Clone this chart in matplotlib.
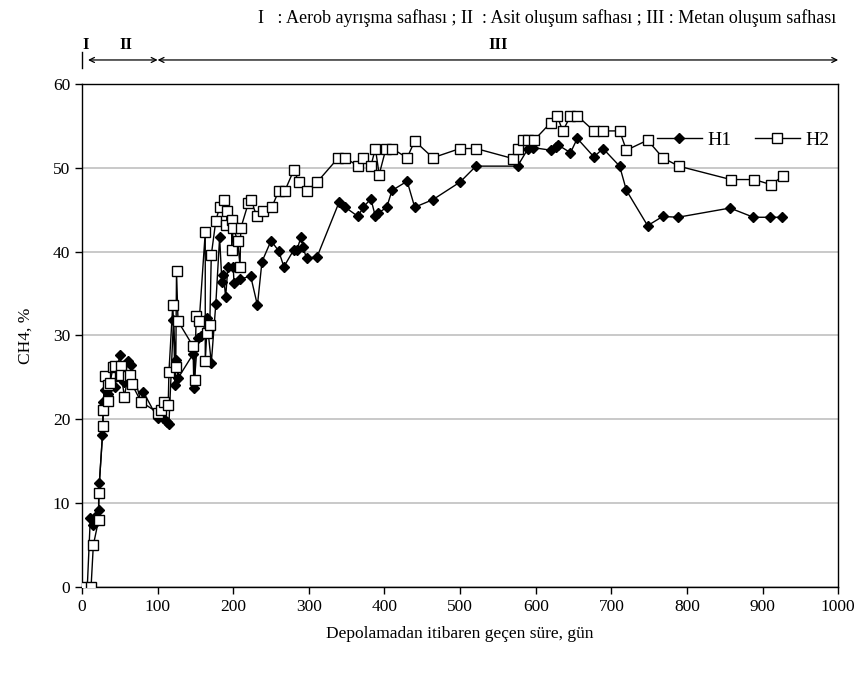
import matplotlib
matplotlib.use("Agg")
import matplotlib.pyplot as plt

plt.rcParams['font.family'] = ['Liberation Serif', 'DejaVu Serif']

# H1 - days and CH4 %
h1_days = [0, 7, 11, 15, 19, 22, 23, 27, 28, 30, 34, 37, 43, 50, 55, 61, 65, 78, 81,
           100, 107, 112, 115, 121, 123, 124, 127, 147, 148, 153, 158, 165, 171, 177,
           182, 185, 187, 190, 193, 200, 201, 209, 223, 232, 238, 250, 260, 267, 280,
           284, 290, 292, 297, 311, 340, 348, 365, 372, 382, 388, 392, 403, 410, 430,
           440, 464, 500, 521, 576, 590, 597, 620, 627, 630, 646, 655, 677, 689, 711,
           720, 748, 768, 788, 857, 888, 910, 926]
h1_ch4 = [0, 0, 8.2, 7.4, 8.5, 9.2, 12.4, 18.1, 22.1, 23.5, 23.0, 23.9, 23.9, 27.7, 24.5,
          26.9, 26.5, 22.1, 23.3, 20.1, 20.1, 19.7, 19.5, 31.9, 24.1, 27.1, 24.9, 27.8,
          23.7, 29.7, 29.9, 32.1, 26.7, 33.8, 41.7, 36.4, 37.2, 34.6, 38.2, 38.2, 36.3,
          36.7, 37.1, 33.6, 38.8, 41.3, 40.1, 38.2, 40.2, 40.2, 41.8, 40.6, 39.2, 39.4,
          45.9, 45.3, 44.2, 45.3, 46.3, 44.2, 44.6, 45.3, 47.3, 48.4, 45.3, 46.2, 48.3,
          50.2, 50.2, 52.3, 52.4, 52.1, 52.5, 52.7, 51.8, 53.5, 51.3, 52.3, 50.2, 47.3,
          43.1, 44.2, 44.1, 45.2, 44.1, 44.1, 44.1]

# H2 - days and CH4 %
h2_days = [0, 12, 15, 22, 22, 28, 28, 30, 35, 35, 37, 41, 43, 50, 51, 52, 56, 61, 63, 66,
           78, 100, 105, 108, 114, 115, 120, 124, 125, 127, 147, 149, 151, 155, 163, 163,
           165, 169, 171, 177, 182, 188, 192, 191, 198, 198, 200, 206, 209, 210, 220,
           223, 231, 240, 251, 260, 268, 280, 287, 297, 311, 339, 348, 365, 372, 382,
           388, 393, 402, 410, 430, 440, 464, 500, 521, 570, 576, 583, 590, 598, 620,
           628, 636, 646, 655, 677, 689, 711, 720, 748, 768, 789, 858, 889, 911, 927]
h2_ch4 = [0, 0, 5.0, 8.0, 11.2, 19.2, 21.1, 25.2, 22.2, 24.1, 24.3, 26.2, 26.3, 25.2, 26.3,
          25.3, 22.7, 25.2, 25.3, 24.2, 22.1, 20.8, 21.1, 22.1, 21.7, 25.7, 33.6, 26.2,
          37.7, 31.7, 28.7, 24.7, 32.3, 31.7, 42.3, 26.9, 30.3, 31.3, 39.6, 43.7, 45.3,
          46.2, 44.8, 43.2, 43.8, 40.2, 42.8, 41.3, 38.2, 42.8, 45.8, 46.2, 44.3, 44.8,
          45.3, 47.2, 47.2, 49.7, 48.3, 47.2, 48.3, 51.2, 51.2, 50.2, 51.2, 50.2, 52.3,
          49.2, 52.3, 52.3, 51.2, 53.2, 51.2, 52.3, 52.3, 51.1, 52.3, 53.3, 53.3, 53.3,
          55.4, 56.2, 54.4, 56.2, 56.2, 54.4, 54.4, 54.4, 52.1, 53.3, 51.2, 50.2, 48.6,
          48.6, 48.0, 49.0]

# phase boundaries (days)
phase_edges = [0, 8, 100, 1000]
phase_names = ['I', 'II', 'III']
phase_note = 'I   : Aerob ayrışma safhası ; II  : Asit oluşum safhası ; III : Metan oluşum safhası'

fig = plt.figure(figsize=(8.64, 6.75), dpi=100)
ax = fig.add_axes([0.0949, 0.1304, 0.8752, 0.7452])

ax.plot(h1_days, h1_ch4, color='black', lw=1.0, marker='D', ms=5.3,
        mfc='black', mec='black', label='H1', zorder=3)
ax.plot(h2_days, h2_ch4, color='black', lw=1.0, marker='s', ms=6.6,
        mfc='white', mec='black', mew=1.0, label='H2', zorder=4)

ax.set_xlim(0, 1000)
ax.set_ylim(0, 60)
ax.set_xticks(range(0, 1001, 100))
ax.set_yticks(range(0, 61, 10))
ax.yaxis.grid(True, color='#c0c0c0', lw=1.2)
ax.set_axisbelow(True)
ax.tick_params(direction='out', length=5, width=1, labelsize=12.5, colors='black')
for sp in ax.spines.values():
    sp.set_linewidth(1.0)
    sp.set_color('black')

ax.set_xlabel('Depolamadan itibaren geçen süre, gün', fontsize=12.5, labelpad=8)
ax.set_ylabel('CH4, %', fontsize=12.5, labelpad=14)

ax.legend(ncol=2, loc='center right', bbox_to_anchor=(1.012, 0.889), frameon=False,
          fontsize=14, handlelength=2.3, columnspacing=1.2, handletextpad=0.3)

# phase arrows above the plot
trans = ax.get_xaxis_transform()
y_arrow = 1.0477
for i in range(len(phase_names)):
    x0, x1 = phase_edges[i], phase_edges[i + 1]
    if i > 0:
        ax.annotate('', xy=(x0, y_arrow), xytext=(x1, y_arrow), xycoords=trans,
                    textcoords=trans, annotation_clip=False,
                    arrowprops=dict(arrowstyle='<->', lw=0.9, color='black',
                                    shrinkA=0, shrinkB=0,
                                    mutation_scale=9))
    xc = (x0 + x1) / 2 if i > 0 else 5
    if i == 1:
        xc = 58
    ax.text(xc, 1.0775, phase_names[i], transform=trans, ha='center', va='center',
            fontsize=12, fontweight='bold')
ax.plot([0, 0], [1.032, 1.063], transform=trans, color='black', lw=1.0, clip_on=False)

ax.text(0.615, 1.131, phase_note, transform=ax.transAxes, ha='center', va='center',
        fontsize=13)

fig.savefig('out.png', dpi=100)
